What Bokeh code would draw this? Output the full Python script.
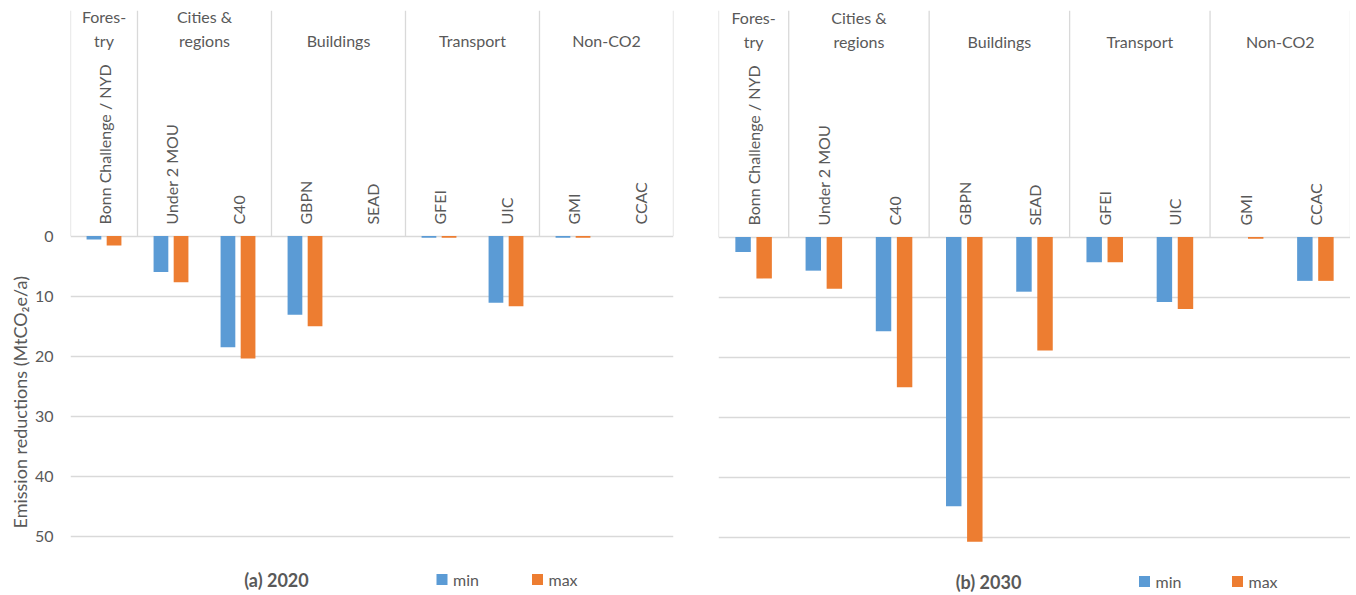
import math
from bokeh.plotting import figure
from bokeh.models import FactorRange, Range1d, FixedTicker, ColumnDataSource, Title
from bokeh.transform import dodge
from bokeh.core.properties import value
from bokeh.layouts import row
from bokeh.embed import file_html
from bokeh.resources import INLINE

# ---------------- data ----------------
groups = ["Forestry", "Cities & regions", "Buildings", "Transport", "Non-CO2"]
group_labels = ["Fores-\ntry", "Cities &\nregions", "Buildings", "Transport", "Non-CO2"]
items = ["Bonn Challenge / NYD", "Under 2 MOU", "C40", "GBPN", "SEAD", "GFEI", "UIC", "GMI", "CCAC"]
item_groups = ["Forestry", "Cities & regions", "Cities & regions", "Buildings", "Buildings",
               "Transport", "Transport", "Non-CO2", "Non-CO2"]

min_2020 = [0.6, 6.0, 18.5, 13.1, 0.0, 0.3, 11.1, 0.3, 0.0]
max_2020 = [1.6, 7.7, 20.4, 15.0, 0.0, 0.3, 11.7, 0.3, 0.0]
min_2030 = [2.5, 5.6, 15.7, 44.8, 9.1, 4.2, 10.8, 0.0, 7.3]
max_2030 = [6.9, 8.6, 25.0, 50.7, 18.9, 4.2, 12.0, 0.3, 7.3]

y_ticks = [0, 10, 20, 30, 40, 50]
y_title = "Emission reductions (MtCO\u2082e/a)"
series_names = ["min", "max"]
panel_titles = ["(a) 2020", "(b) 2030"]

# ---------------- style ----------------
FONT = "Lato"
TXT = "#595959"
GRID = "#D9D9D9"
BLUE = "#5B9BD5"
ORANGE = "#ED7D31"
PX_PER_UNIT = 6.01
FRAME_BOTTOM = 593   # canvas y of the frame bottom
FOOT_Y = 579         # canvas y of the footer line (caption + legend)


def make_panel(title, mins, maxs, show_y, frame_w, b_left, b_right, b_top,
               zero_px, caption_px, legend_px):
    factors = list(zip(item_groups, items))
    cat_w = frame_w / len(items)
    frame_h = FRAME_BOTTOM - b_top
    y_top = -(zero_px - b_top) / PX_PER_UNIT
    y_bot = (FRAME_BOTTOM - zero_px) / PX_PER_UNIT
    y_foot = (FOOT_Y - zero_px) / PX_PER_UNIT
    p = figure(x_range=FactorRange(*factors, factor_padding=0, group_padding=0,
                                   subgroup_padding=0, range_padding=0),
               y_range=Range1d(start=y_bot, end=y_top),
               frame_width=frame_w, frame_height=frame_h,
               min_border_left=b_left, min_border_right=b_right,
               min_border_top=b_top, min_border_bottom=0,
               x_axis_location=None, y_axis_location="left" if show_y else None,
               toolbar_location=None, output_backend="svg")
    p.outline_line_color = None
    p.xgrid.visible = False
    p.ygrid.ticker = FixedTicker(ticks=y_ticks)
    p.ygrid.grid_line_color = GRID
    p.ygrid.grid_line_width = 1.3
    if show_y:
        ax = p.yaxis[0]
        ax.ticker = FixedTicker(ticks=y_ticks)
        ax.axis_line_color = None
        ax.major_tick_line_color = None
        ax.minor_tick_line_color = None
        ax.major_tick_out = 0
        ax.major_tick_in = 0
        ax.major_label_standoff = 17
        ax.major_label_text_font = FONT
        ax.major_label_text_font_size = "16px"
        ax.major_label_text_color = TXT
        # vertical axis title beside the 0..50 region (its lower end near y=528)
        p.add_layout(Title(text=y_title, align="left", offset=FRAME_BOTTOM - 528,
                           text_font=FONT, text_font_size="18px", text_color=TXT,
                           text_font_style="normal", standoff=2), "left")

    src = ColumnDataSource(dict(x=factors, mn=mins, mx=maxs))
    p.vbar(x=dodge("x", -0.15, range=p.x_range), top="mn", bottom=0, width=0.22,
           source=src, fill_color=BLUE, line_color=None)
    p.vbar(x=dodge("x", 0.15, range=p.x_range), top="mx", bottom=0, width=0.22,
           source=src, fill_color=ORANGE, line_color=None)

    # separators of the category header box
    sep_x = [(item_groups[0], items[0], -0.5)]
    for g in groups:
        last = [it for it, gg in zip(items, item_groups) if gg == g][-1]
        sep_x.append((g, last, 0.5))
    p.segment(x0=sep_x, y0=[0] * len(sep_x), x1=sep_x, y1=[y_top] * len(sep_x),
              line_color=GRID, line_width=1.3)

    # item labels (rotated) and group labels
    p.text(x=factors, y=[-1.9] * len(items), text=items, angle=math.pi / 2,
           text_font=value(FONT), text_font_size="16px", text_color=TXT,
           text_align="left", text_baseline="middle")
    p.text(x=groups, y=[-30.9] * len(groups), text=group_labels,
           text_font=value(FONT), text_font_size="16px", text_color=TXT,
           text_align="center", text_baseline="bottom", text_line_height=1.3)

    # footer: panel caption and series key
    p.text(x=[caption_px / cat_w], y=[y_foot], text=[title],
           text_font=value(FONT), text_font_size="18px", text_font_style="bold",
           text_color=TXT, text_align="center", text_baseline="middle")
    key_sq = [legend_px[0] / cat_w, legend_px[1] / cat_w]
    p.rect(x=key_sq, y=[y_foot] * 2, width=11, height=11,
           width_units="screen", height_units="screen",
           fill_color=[BLUE, ORANGE], line_color=None)
    p.text(x=[(legend_px[0] + 11) / cat_w, (legend_px[1] + 11) / cat_w], y=[y_foot] * 2,
           text=series_names, text_font=value(FONT), text_font_size="16px",
           text_color=TXT, text_align="left", text_baseline="middle")
    return p


p1 = make_panel(panel_titles[0], min_2020, max_2020, True, 603, 70, 22, 10,
                235.5, 206, (371.5, 467))
p2 = make_panel(panel_titles[1], min_2030, max_2030, False, 632, 23, 0, 8,
                234.5, 270, (426, 519))

layout = row(p1, p2)
open("out.html", "w").write(file_html(layout, INLINE))
